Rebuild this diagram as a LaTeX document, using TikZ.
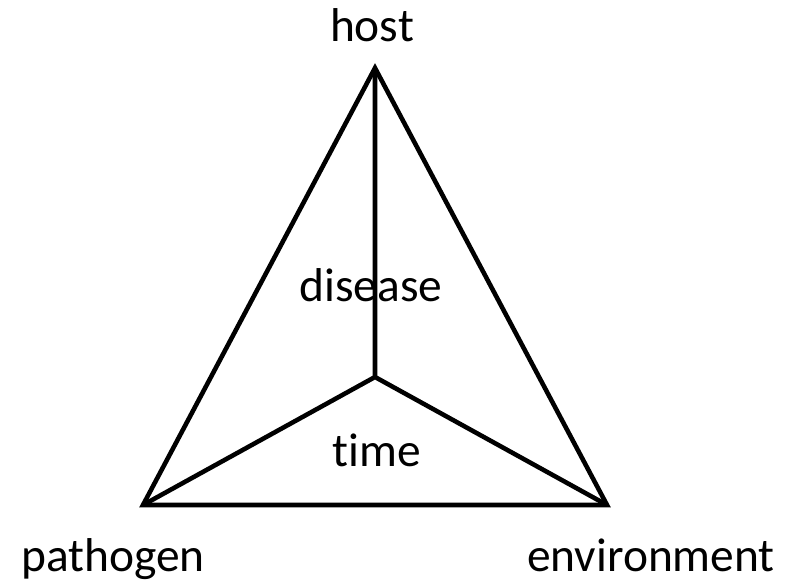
\documentclass[tikz,border=0pt]{standalone}
\usepackage{fontspec}
\setmainfont{Carlito}[Ligatures=NoCommon]
\usepackage{tikz}

\begin{document}
\begin{tikzpicture}[line width=2.6pt,
    lbl/.style={anchor=base,inner sep=0pt,font=\fontsize{27}{30}\selectfont}]
  \useasboundingbox (0,0) rectangle (16,11.7);
  \coordinate (host) at (7.5,10.34); \coordinate (path) at (2.86,1.6);
  \coordinate (env) at (12.14,1.6); \coordinate (mid) at (7.5,4.16);
  \draw[line join=miter] (host) -- (path) -- (env) -- cycle;
  \draw (host) -- (mid) (path) -- (mid) -- (env);
  \node[lbl] (hostlbl) at (7.44,10.86) {host};
  \node[lbl] (dislbl) at (7.42,5.66) {disease};
  \node[lbl] (timelbl) at (7.54,2.36) {time};
  \node[lbl] (pathlbl) at (2.26,0.26) {pathogen};
  \node[lbl] (envlbl) at (13.02,0.26) {environment};
\end{tikzpicture}
\end{document}
